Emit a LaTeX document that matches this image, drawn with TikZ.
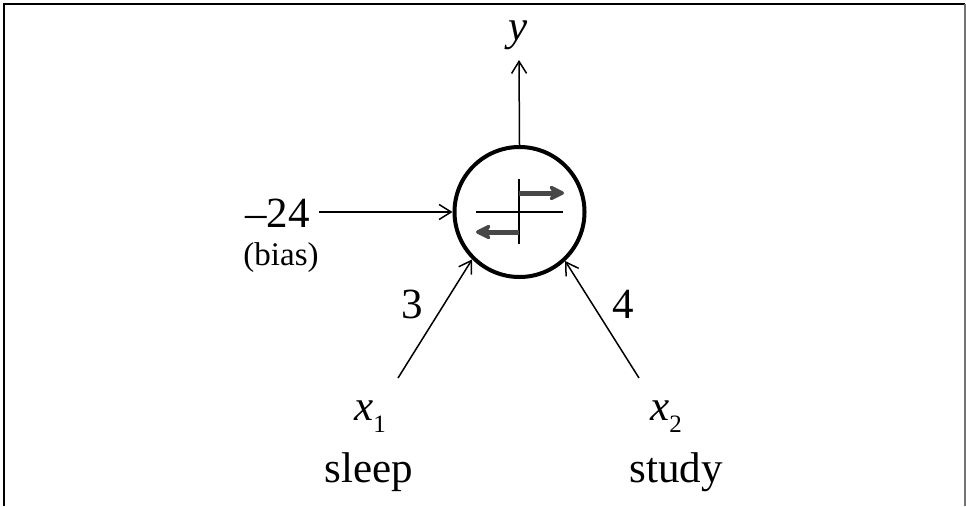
\documentclass[tikz,border=0pt]{standalone}
\usepackage{fontspec}
\setmainfont{Liberation Serif}
\usetikzlibrary{arrows.meta}
\begin{document}
\begin{tikzpicture}[x=1pt,y=-1pt,
  conn/.style={line width=1.5pt, -{Straight Barb[length=12pt,width=15pt,line width=1.5pt]}},
  big/.style={font=\fontsize{43}{50}\selectfont, inner sep=0pt},
  small/.style={font=\fontsize{33}{38}\selectfont, inner sep=0pt},
  garrow/.style={line width=5pt, draw=black!72, -{Stealth[length=19pt,width=19pt,inset=6pt,round]}},
  neuron/.style={circle, draw, line width=4pt, minimum size=130pt, inner sep=0pt}
]
\useasboundingbox (0,0) rectangle (966,506);
\draw[line width=2pt] (4,506) -- (4,4) -- (965,4);
\draw[line width=2pt, black!55] (965,4) -- (965,506);

\node[neuron] (c) at (519.5,212) {};
% step function symbol
\draw[line width=2pt] (476,212) -- (563,212);
\draw[line width=2pt] (519,179) -- (519,244);
\draw[garrow] (519,193) -- (564,193);
\draw[garrow] (519,232) -- (476,232);

% output
\node[big, anchor=base] (yl) at (518,40) {\itshape y};
\coordinate (ytip) at (519,60);
\draw[conn] (c.north) -- (ytip);

% bias
\node[big] (bias) at (277.5,213) {\textendash24};
\node[small] (biasl) at (281,258) {(bias)};
\coordinate (bstart) at (319,212);
\draw[conn] (bstart) -- (c.west);

% inputs
\node[big, anchor=base] (x1) at (370,420) {\itshape x\upshape\raisebox{-12pt}{\fontsize{25}{25}\selectfont 1}};
\node[big, anchor=base] (sleep) at (369,482) {sleep};
\node[big, anchor=base] (x2) at (666,420) {\itshape x\upshape\raisebox{-12pt}{\fontsize{25}{25}\selectfont 2}};
\node[big, anchor=base] (study) at (676,482) {study};

\coordinate (s1) at (398,378);
\coordinate (s2) at (639,378);
\draw[conn] (s1) -- (c.225);
\draw[conn] (s2) -- (c.313.5);

\node[big] (w1) at (412.5,304) {3};
\node[big] (w2) at (623,304) {4};
\end{tikzpicture}
\end{document}
